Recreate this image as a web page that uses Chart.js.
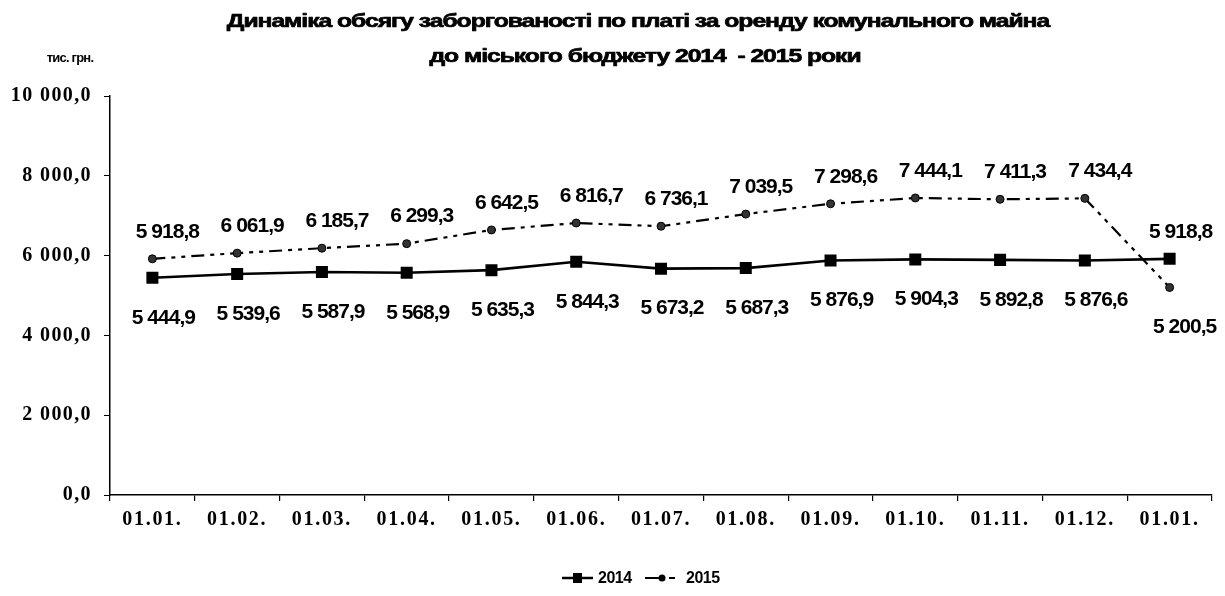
<!DOCTYPE html>
<html><head><meta charset="utf-8">
<script src="https://cdn.jsdelivr.net/npm/chart.js@4.4.1/dist/chart.umd.min.js"></script>
<style>html,body{margin:0;padding:0;background:#fff}canvas{display:block}</style>
</head><body>
<canvas id="c" width="1225" height="596"></canvas>
<script>
const categories = ["01.01.","01.02.","01.03.","01.04.","01.05.","01.06.","01.07.","01.08.","01.09.","01.10.","01.11.","01.12.","01.01."];
const values2014 = [5444.9,5539.6,5587.9,5568.9,5635.3,5844.3,5673.2,5687.3,5876.9,5904.3,5892.8,5876.6,5918.8];
const values2015 = [5918.8,6061.9,6185.7,6299.3,6642.5,6816.7,6736.1,7039.5,7298.6,7444.1,7411.3,7434.4,5200.5];
const seriesNames = ["2014","2015"];
const yTicks = [0,2000,4000,6000,8000,10000];
const titleLines = ["Динаміка обсягу заборгованості по платі за оренду комунального майна","до міського бюджету 2014  - 2015 роки"];
const unitLabel = "тис. грн.";

function fmt(v){
  const s = v.toFixed(1).split('.');
  let i = s[0];
  if (i.length > 3) i = i.slice(0,-3) + ' ' + i.slice(-3);
  return i + ',' + s[1];
}

const SANS = '"Liberation Sans", Arial, sans-serif';
const SERIF = '"Liberation Serif", "Times New Roman", serif';
const dash2015 = [13,6,4,6,4,6];

function stretchedText(ctx, text, x, y, sx, stroke){
  ctx.save();
  ctx.translate(x, y);
  ctx.scale(sx, 1);
  ctx.fillText(text, 0, 0);
  if (stroke) { ctx.lineWidth = stroke; ctx.strokeStyle = '#000'; ctx.lineJoin = 'round'; ctx.strokeText(text, 0, 0); }
  ctx.restore();
}

const spacingPatch = {
  id:'spacingPatch',
  beforeDraw(chart){
    Object.values(chart.scales).forEach(scale => {
      if (scale._lsPatched) return;
      const orig = scale.drawLabels.bind(scale);
      const ls = scale.options.ticks.letterSpacing || '0px';
      scale.drawLabels = function(area){
        const ctx = this.ctx;
        ctx.save();
        ctx.letterSpacing = ls;
        orig(area);
        ctx.restore();
      };
      scale._lsPatched = true;
    });
  }
};

const decor = {
  id:'decor',
  afterDraw(chart){
    const ctx = chart.ctx;
    ctx.save();
    ctx.fillStyle = '#000';
    ctx.textAlign = 'center';
    ctx.textBaseline = 'alphabetic';
    // title
    ctx.font = 'bold 19px ' + SANS;
    ctx.letterSpacing = '-0.8px';
    stretchedText(ctx, titleLines[0], 638, 27, 1.3, 0.7);
    stretchedText(ctx, titleLines[1], 645, 62, 1.3, 0.7);
    // unit
    ctx.font = 'bold 13px ' + SANS;
    ctx.letterSpacing = '-0.8px';
    ctx.fillText(unitLabel, 70, 62);
    // data labels
    ctx.textBaseline = 'middle';
    ctx.font = 'bold 21px ' + SANS;
    ctx.letterSpacing = '-1px';
    chart.data.datasets.forEach((ds, di) => {
      const meta = chart.getDatasetMeta(di);
      const n = meta.data.length;
      meta.data.forEach((pt, i) => {
        let below = di === 0;
        if (i === n - 1) below = !below;
        const dy = below ? 40 : -27;
        const dx = di === 0 ? 11 : 15;
        ctx.fillText(fmt(ds.data[i]), pt.x + dx, pt.y + dy);
      });
    });
    // legend
    const ly = 578;
    ctx.letterSpacing = '-0.5px';
    ctx.font = 'bold 16px ' + SANS;
    ctx.textAlign = 'left';
    ctx.strokeStyle = '#000';
    ctx.lineWidth = 2.5;
    ctx.beginPath(); ctx.moveTo(562, ly); ctx.lineTo(593, ly); ctx.stroke();
    ctx.fillRect(573, ly-5, 9, 10);
    ctx.fillText(seriesNames[0], 598, ly+1);
    ctx.lineWidth = 2;
    ctx.beginPath(); ctx.moveTo(645, ly); ctx.lineTo(662, ly); ctx.stroke();
    ctx.beginPath(); ctx.moveTo(669, ly); ctx.lineTo(675, ly); ctx.stroke();
    ctx.beginPath(); ctx.arc(662, ly, 3.5, 0, Math.PI*2); ctx.fill();
    ctx.fillText(seriesNames[1], 686, ly+1);
    ctx.restore();
  }
};

new Chart(document.getElementById('c'), {
  type:'line',
  data:{
    labels: categories,
    datasets:[
      {label: seriesNames[0], data: values2014, borderColor:'#000', backgroundColor:'#000', borderWidth:2.6,
       pointStyle:'rect', pointRadius:8.5, pointBackgroundColor:'#000', pointBorderColor:'#000', pointBorderWidth:0, tension:0},
      {label: seriesNames[1], data: values2015, borderColor:'#000', backgroundColor:'#222', borderWidth:2.2,
       borderDash: dash2015, pointStyle:'circle', pointRadius:4, pointBackgroundColor:'#333', pointBorderColor:'#000', pointBorderWidth:1, tension:0}
    ]
  },
  options:{
    responsive:false, animation:false, devicePixelRatio:1,
    layout:{padding:{top:96,left:0,right:13,bottom:0}},
    plugins:{legend:{display:false}, title:{display:false}, tooltip:{enabled:false}},
    scales:{
      x:{
        type:'category', offset:true,
        grid:{offset:true, drawOnChartArea:false, drawTicks:true, tickLength:6, color:'#000', lineWidth:1.2},
        border:{display:true, color:'#000', width:1.5},
        ticks:{color:'#000', font:{family:SERIF, size:20, weight:'bold'}, padding:7, maxRotation:0, autoSkip:false, letterSpacing:'1.7px'},
        afterFit(s){ s.height = 101; }
      },
      y:{
        min:0, max:10000,
        afterBuildTicks(s){ s.ticks = yTicks.map(v => ({value:v})); },
        grid:{drawOnChartArea:false, drawTicks:true, tickLength:6, color:'#000'},
        border:{display:true, color:'#000', width:1.5},
        ticks:{color:'#000', font:{family:SERIF, size:20, weight:'bold'}, padding:12, callback:(v)=>fmt(v), letterSpacing:'1.4px'},
        afterFit(s){ s.width = 110; }
      }
    }
  },
  plugins:[spacingPatch, decor]
});
</script>
</body></html>
